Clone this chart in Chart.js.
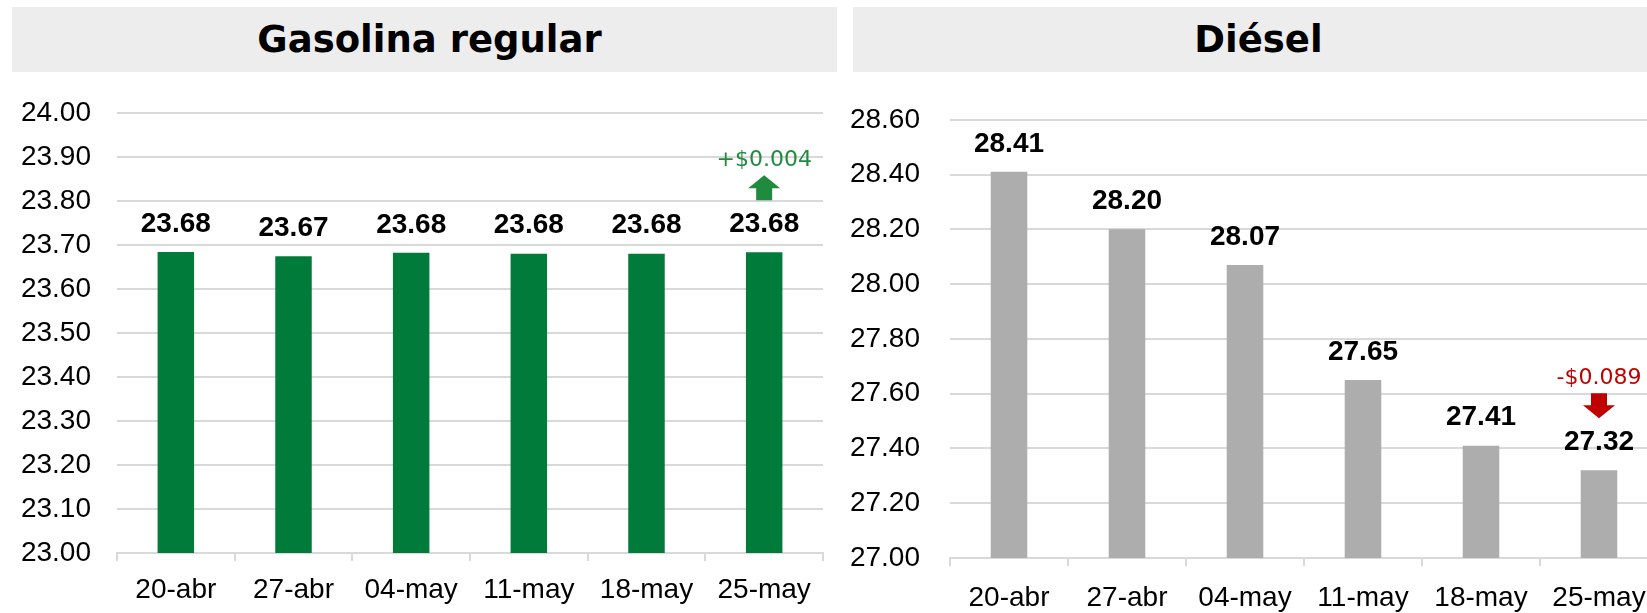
<!DOCTYPE html>
<html>
<head>
<meta charset="utf-8">
<script src="https://cdn.jsdelivr.net/npm/chart.js@4.4.1/dist/chart.umd.min.js"></script>
<style>
  html, body { margin: 0; padding: 0; width: 1647px; height: 613px; overflow: hidden; background: #fff; }
  .box { position: absolute; top: 7px; height: 65px; background: #ededed; font-family: "DejaVu Sans", Verdana, sans-serif; font-weight: bold; font-size: 37px; line-height: 65px; text-align: center; color: #000; box-sizing: border-box; }
  canvas { position: absolute; }
</style>
</head>
<body>
<div class="box" style="left:12px; width:825px; padding-left:10px;">Gasolina regular</div>
<div class="box" style="left:853px; width:825px; padding-right:14px;">Diésel</div>
<canvas id="chart1" width="837" height="543" style="left:0px; top:70px;"></canvas>
<canvas id="chart2" width="830" height="540" style="left:840px; top:73px;"></canvas>
<script>
const weeks = ["20-abr", "27-abr", "04-may", "11-may", "18-may", "25-may"];
const gasolina = [23.684, 23.674, 23.682, 23.680, 23.680, 23.683];
const diesel = [28.41, 28.20, 28.07, 27.65, 27.41, 27.32];
const gasolinaTicks = { min: 23.0, max: 24.0, step: 0.1 };
const dieselTicks = { min: 27.0, max: 28.6, step: 0.2 };
const gasolinaChange = "+$0.004";
const dieselChange = "-$0.089";

const gridColor = "#d9d9d9";

// value labels over each bar
const valueLabels = {
    id: "valueLabels",
    afterDatasetsDraw(chart) {
        const ctx = chart.ctx;
        const meta = chart.getDatasetMeta(0);
        const data = chart.data.datasets[0].data;
        ctx.save();
        ctx.font = "bold 28px 'Liberation Sans', Arial, sans-serif";
        ctx.fillStyle = "#000";
        ctx.textAlign = "center";
        ctx.textBaseline = "middle";
        meta.data.forEach((bar, i) => {
            ctx.fillText(data[i].toFixed(2), bar.x, bar.y - 28);
        });
        ctx.restore();
    }
};

// weekly change text + arrow over the last bar
const changeMark = {
    id: "changeMark",
    afterDatasetsDraw(chart, args, opts) {
        const ctx = chart.ctx;
        const meta = chart.getDatasetMeta(0);
        const bar = meta.data[meta.data.length - 1];
        const x = bar.x, top = bar.y;
        ctx.save();
        ctx.font = "22px 'DejaVu Sans', Verdana, sans-serif";
        ctx.fillStyle = opts.color;
        ctx.textAlign = "center";
        ctx.textBaseline = "middle";
        ctx.fillText(opts.text, x, top - 92);

        const y0 = top - 77, y1 = top - 52, head = 13, hw = 16, sw = 8;
        ctx.beginPath();
        if (opts.up) {
            ctx.moveTo(x, y0);
            ctx.lineTo(x + hw, y0 + head);
            ctx.lineTo(x + sw, y0 + head);
            ctx.lineTo(x + sw, y1);
            ctx.lineTo(x - sw, y1);
            ctx.lineTo(x - sw, y0 + head);
            ctx.lineTo(x - hw, y0 + head);
        } else {
            ctx.moveTo(x - sw, y0);
            ctx.lineTo(x + sw, y0);
            ctx.lineTo(x + sw, y1 - head);
            ctx.lineTo(x + hw, y1 - head);
            ctx.lineTo(x, y1);
            ctx.lineTo(x - hw, y1 - head);
            ctx.lineTo(x - sw, y1 - head);
        }
        ctx.closePath();
        ctx.fill();
        ctx.restore();
    }
};

function makeChart(canvasId, values, color, ticks, yWidth, xHeight, pad, tickPad, xPad, change) {
    return new Chart(document.getElementById(canvasId), {
        type: "bar",
        data: {
            labels: weeks,
            datasets: [{
                data: values,
                backgroundColor: color,
                borderWidth: 0,
                categoryPercentage: 1.0,
                barPercentage: 0.31,
            }]
        },
        plugins: [valueLabels, changeMark],
        options: {
            responsive: false,
            animation: false,
            layout: { padding: pad },
            plugins: {
                legend: { display: false },
                tooltip: { enabled: false },
                changeMark: change,
            },
            scales: {
                x: {
                    grid: {
                        display: true,
                        offset: true,
                        drawOnChartArea: false,
                        drawTicks: true,
                        tickLength: 8,
                        color: gridColor,
                        lineWidth: 2,
                    },
                    border: { display: true, color: gridColor, width: 2 },
                    ticks: {
                        color: "#000",
                        padding: xPad,
                        font: { family: "'Liberation Sans', Arial, sans-serif", size: 28 },
                    },
                    afterFit: (axis) => { axis.height = xHeight; },
                },
                y: {
                    min: ticks.min,
                    max: ticks.max,
                    grid: { color: gridColor, lineWidth: 2, drawTicks: false },
                    border: { display: false },
                    ticks: {
                        stepSize: ticks.step,
                        color: "#000",
                        padding: tickPad,
                        font: { family: "'Liberation Sans', Arial, sans-serif", size: 28 },
                        callback: (v) => Number(v).toFixed(2),
                    },
                    afterFit: (axis) => { axis.width = yWidth; },
                }
            }
        }
    });
}

makeChart("chart1", gasolina, "#007b3a", gasolinaTicks, 117, 60,
    { top: 0, right: 14, bottom: 0, left: 0 }, 26, 12,
    { text: gasolinaChange, color: "#1e8b3e", up: true });

makeChart("chart2", diesel, "#adadad", dieselTicks, 110, 55,
    { top: 0, right: 12, bottom: 0, left: 0 }, 30, 15,
    { text: dieselChange, color: "#c00000", up: false });
</script>
</body>
</html>
